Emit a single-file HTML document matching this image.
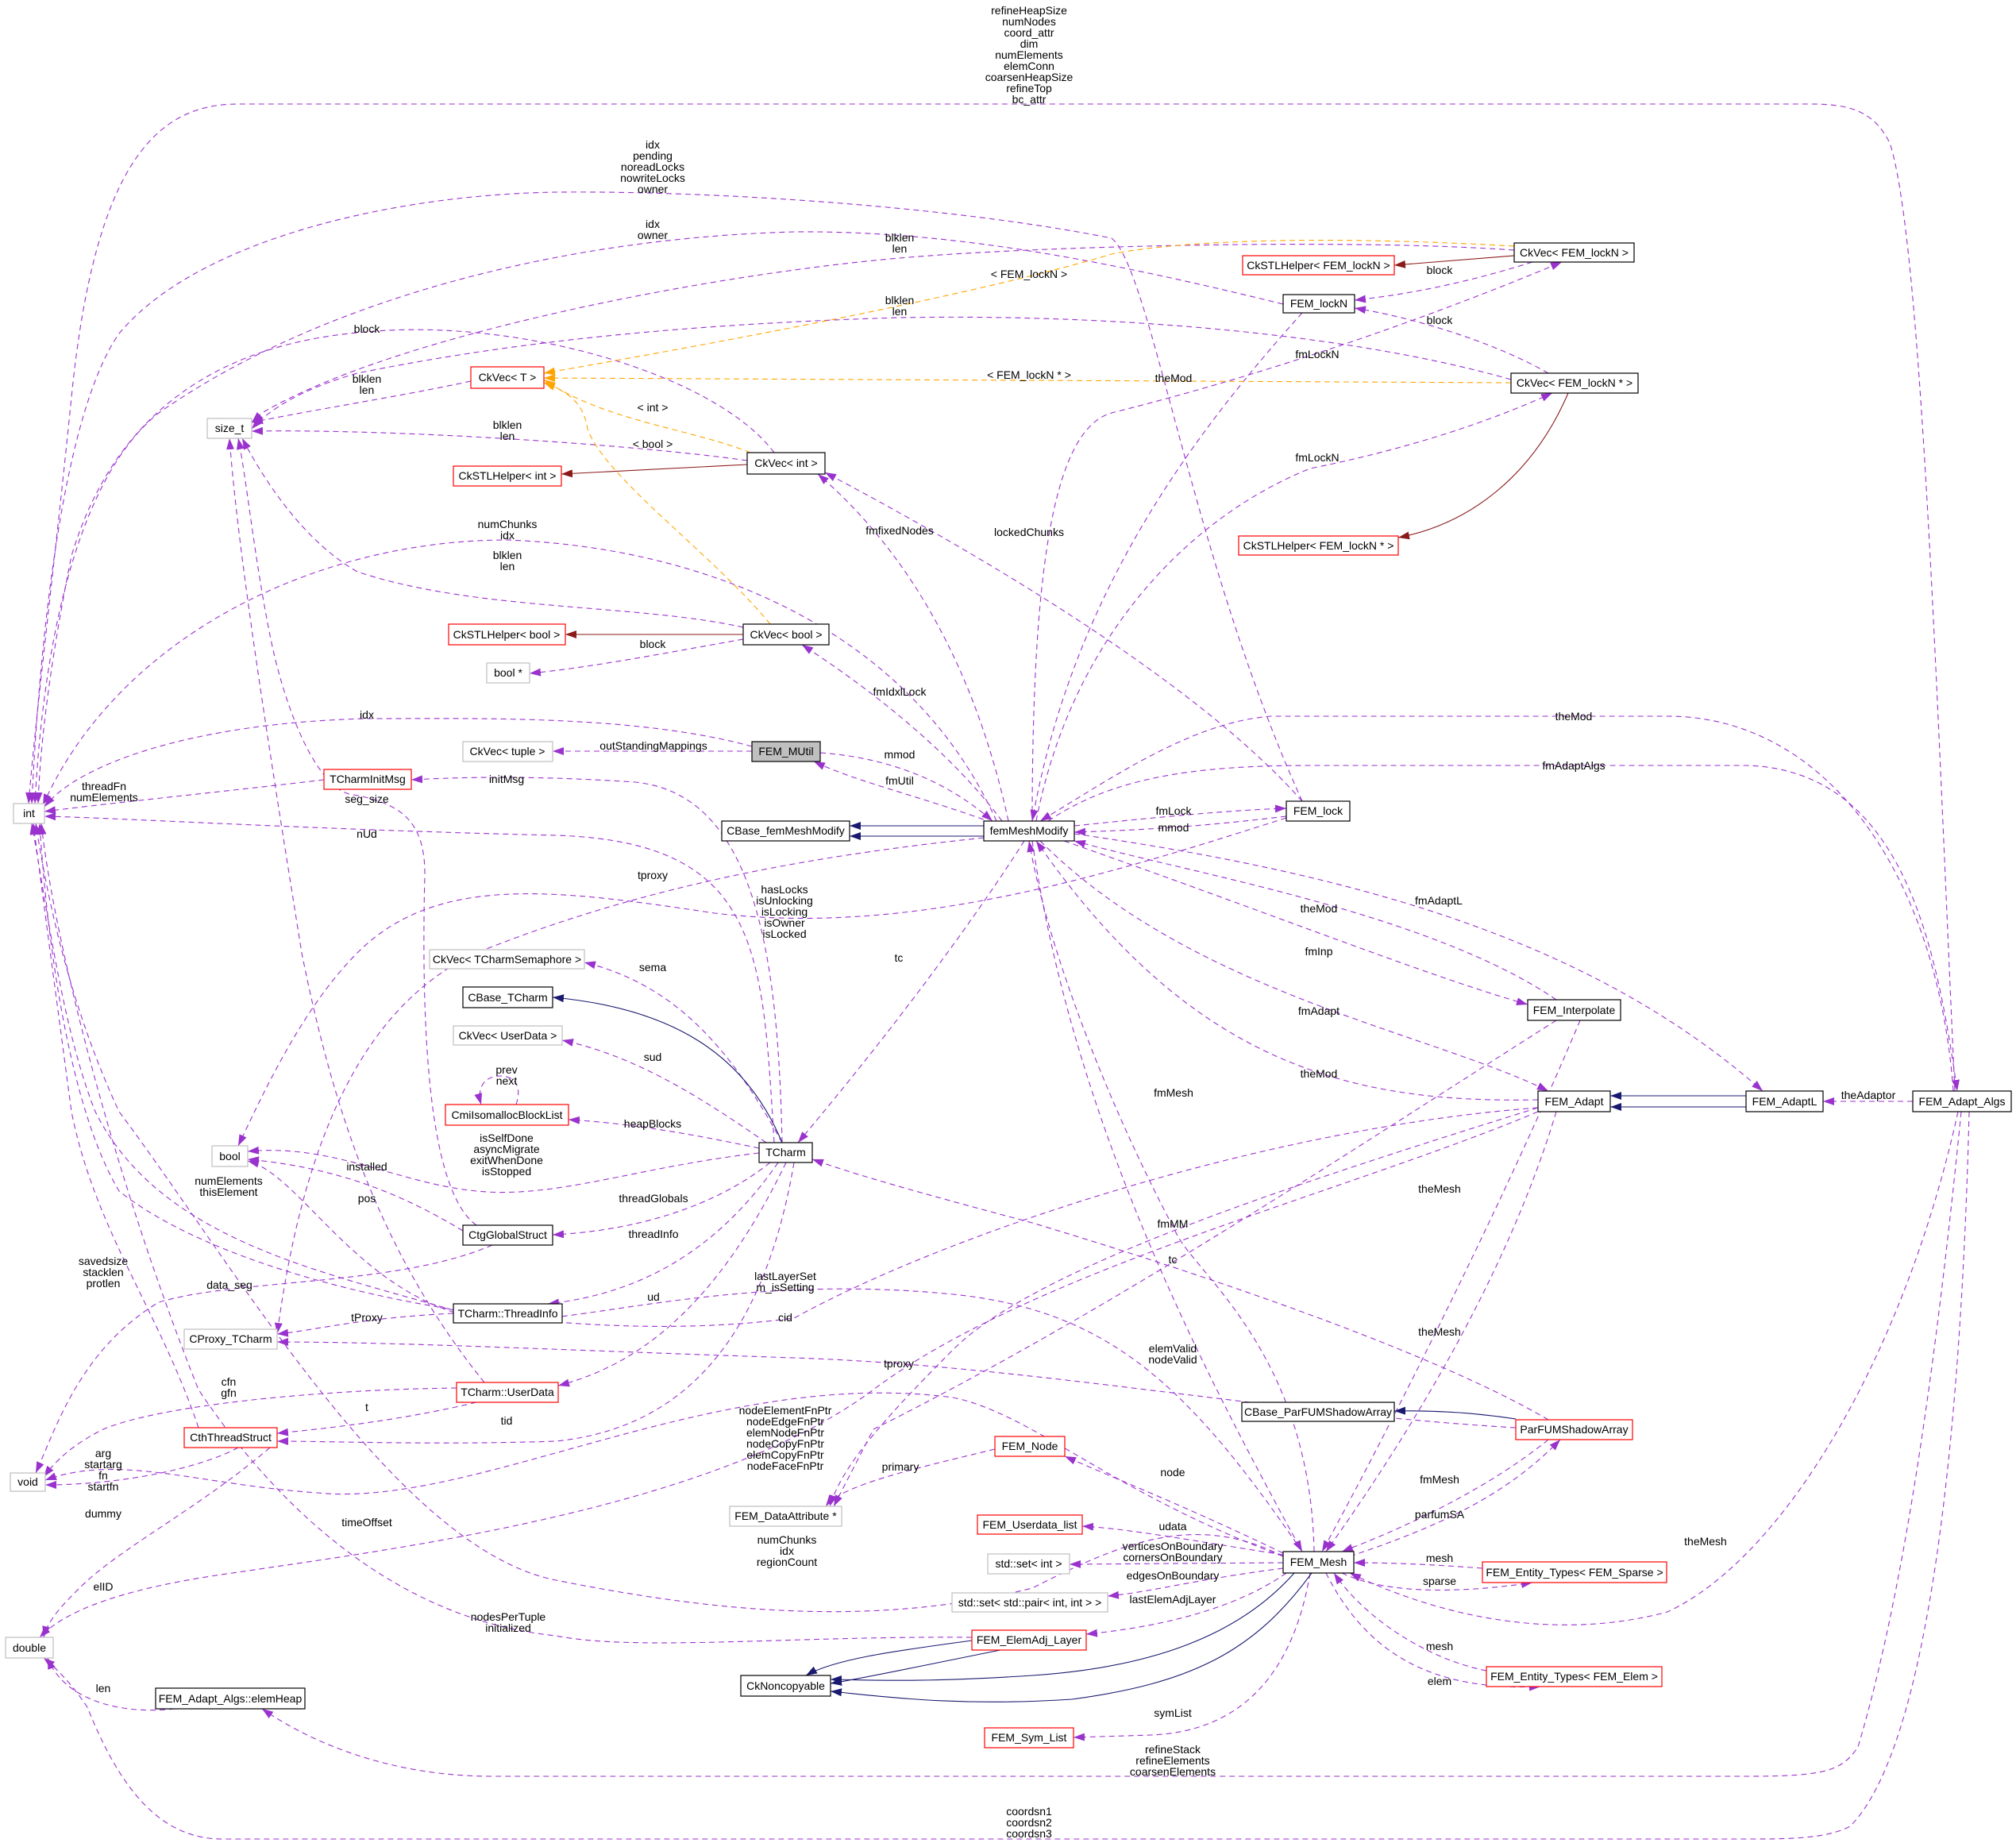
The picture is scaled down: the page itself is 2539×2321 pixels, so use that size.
<!DOCTYPE html>
<html><head><meta charset="utf-8"><style>
html,body{margin:0;padding:0;background:#fff;}
svg{display:block;font-family:"Liberation Sans",sans-serif;font-size:14px;}
.p{fill:none;stroke:#9a32cd;stroke-width:1.1;stroke-dasharray:7,5;}
.o{fill:none;stroke:#ffa500;stroke-width:1.1;stroke-dasharray:7,5;}
.n{fill:none;stroke:#191970;stroke-width:1.1;}
.r{fill:none;stroke:#8b1a1a;stroke-width:1.1;}
.bk{fill:#fff;stroke:#000;stroke-width:1.2;}
.bg{fill:#fff;stroke:#bfbfbf;stroke-width:1.2;}
.br{fill:#fff;stroke:#ff0000;stroke-width:1.2;}
text{fill:#000;}
.c{text-anchor:middle;}
</style></head><body>
<svg width="2539" height="2321" viewBox="0 0 2539 2321" xmlns="http://www.w3.org/2000/svg">
<defs>
<marker id="ap" markerUnits="userSpaceOnUse" markerWidth="15" markerHeight="11" refX="14" refY="5" orient="auto"><path d="M0,0L14,5L0,10z" fill="#9a32cd"/></marker>
<marker id="ao" markerUnits="userSpaceOnUse" markerWidth="15" markerHeight="11" refX="14" refY="5" orient="auto"><path d="M0,0L14,5L0,10z" fill="#ffa500"/></marker>
<marker id="an" markerUnits="userSpaceOnUse" markerWidth="15" markerHeight="11" refX="14" refY="5" orient="auto"><path d="M0,0L14,5L0,10z" fill="#191970"/></marker>
<marker id="ar" markerUnits="userSpaceOnUse" markerWidth="15" markerHeight="11" refX="14" refY="5" orient="auto"><path d="M0,0L14,5L0,10z" fill="#8b1a1a"/></marker>
</defs>

<g class="p" marker-end="url(#ap)">
<path d="M2462,1374 C2440,900 2420,300 2380,180 C2360,140 2330,131 2280,131 L300,131 C200,131 120,200 90,500 C70,700 45,900 36,1012"/>
<path d="M1640,1009 C1500,700 1450,340 1400,300 C1200,260 900,240 700,242 C500,245 250,300 150,420 C80,520 50,800 40,1012"/>
<path d="M1616,383 C1400,330 1200,290 1000,292 C700,300 400,380 200,520 C100,600 55,800 44,1012"/>
<path d="M1907,315 C1700,300 1300,310 1133,325 C900,345 500,420 330,520 L317,532"/>
<path d="M1903,478 C1700,420 1400,395 1133,400 C800,410 600,440 450,470 C380,490 340,515 317,540"/>
<path d="M975,570 C900,470 650,400 462,418 C300,430 150,500 90,700 C60,850 50,950 48,1012"/>
<path d="M593,480 C500,500 400,515 317,532"/>
<path d="M941,580 C800,560 500,540 317,543"/>
<path d="M1255,1034 C1150,800 900,690 639,680 C400,680 150,800 54,1014"/>
<path d="M936,790 C800,760 600,770 450,720 C380,680 330,600 305,552"/>
<path d="M947,940 C800,900 600,905 462,905 C250,910 100,960 56,1016"/>
<path d="M947,946 L696,946"/>
<path d="M1033,948 C1130,955 1200,990 1250,1034"/>
<path d="M1250,1036 C1150,1000 1080,985 1025,959"/>
<path d="M936,805 C850,820 750,840 667,848"/>
<path d="M1930,330 C1850,355 1780,370 1706,378"/>
<path d="M1950,470 C1880,430 1780,400 1706,388"/>
<path d="M1300,1034 C1300,700 1330,540 1400,520 C1600,470 1800,400 1967,330"/>
<path d="M1305,1034 C1350,800 1500,650 1650,590 C1800,560 1900,520 1955,495"/>
<path d="M1640,394 C1500,550 1350,750 1300,1034"/>
<path d="M1270,1034 C1230,850 1150,700 1030,597"/>
<path d="M1640,1009 C1500,850 1200,680 1039,595"/>
<path d="M1262,1034 C1200,950 1100,870 1010,812"/>
<path d="M985,1439 C980,1200 950,1000 800,985 C650,975 560,980 518,982"/>
<path d="M975,1439 C960,1200 960,1060 700,1052 C400,1045 150,1030 56,1028"/>
<path d="M408,982 C300,995 150,1010 56,1022"/>
<path d="M600,1543 C540,1500 530,1300 535,1100 C535,1030 500,1010 440,1000 C400,990 360,900 340,800 C320,700 310,600 300,552"/>
<path d="M1239,1055 C1000,1080 800,1120 600,1200 C450,1270 380,1450 349,1680"/>
<path d="M1620,1030 C1400,1100 1150,1180 900,1150 C700,1120 550,1100 450,1200 C380,1270 330,1380 300,1443"/>
<path d="M1290,1059 C1200,1200 1080,1350 1005,1439"/>
<path d="M985,1439 C920,1320 850,1240 736,1212"/>
<path d="M965,1439 C880,1380 800,1330 708,1310"/>
<path d="M650,1391 C660,1360 640,1355 630,1355 C610,1355 600,1370 606,1391"/>
<path d="M956,1446 C880,1430 800,1415 716,1410"/>
<path d="M956,1452 C800,1470 700,1510 600,1500 C500,1490 420,1440 312,1450"/>
<path d="M583,1550 C500,1500 420,1470 312,1460"/>
<path d="M571,1650 C400,1600 200,1560 120,1400 C80,1300 60,1150 40,1037"/>
<path d="M610,1741 C480,1580 420,1400 380,1200 C340,950 300,700 289,552"/>
<path d="M970,1464 C900,1520 800,1550 696,1555"/>
<path d="M980,1464 C900,1580 800,1630 690,1642"/>
<path d="M250,1798 C200,1650 120,1550 90,1400 C70,1250 50,1100 42,1037"/>
<path d="M620,1568 C500,1620 300,1610 200,1640 C100,1700 70,1800 45,1855"/>
<path d="M1640,1954 C1500,1750 1400,1650 1200,1630 C900,1600 700,1680 600,1660 C450,1630 380,1480 312,1462"/>
<path d="M990,1464 C900,1650 800,1720 703,1745"/>
<path d="M1937,1395 C1600,1420 1200,1550 1000,1660 C700,1700 300,1620 150,1500 C90,1400 60,1200 50,1037"/>
<path d="M571,1654 C450,1660 400,1675 349,1680"/>
<path d="M1909,1798 C1600,1780 1300,1720 1000,1710 C700,1700 500,1690 349,1690"/>
<path d="M575,1748 C400,1750 200,1770 130,1800 C90,1820 70,1840 55,1860"/>
<path d="M1616,1960 C1400,1880 1300,1780 1200,1760 C900,1720 600,1900 400,1880 C250,1870 150,1830 57,1864"/>
<path d="M600,1766 C500,1790 400,1800 349,1805"/>
<path d="M1000,1464 C960,1700 850,1800 700,1815 C550,1820 420,1815 349,1815"/>
<path d="M300,1823 C250,1850 150,1870 57,1870"/>
<path d="M1253,1825 C1150,1850 1060,1870 1040,1897"/>
<path d="M1937,1400 C1700,1500 1300,1600 1100,1750 C900,1900 500,1950 300,1980 C150,2000 80,2030 50,2062"/>
<path d="M340,1823 C250,1900 150,1950 100,2000 C80,2020 60,2040 55,2062"/>
<path d="M1616,1960 C1500,1900 1400,1950 1300,2000 C1100,2050 900,2030 700,1990 C500,1950 300,1600 150,1400 C80,1250 55,1100 45,1037"/>
<path d="M1224,2062 C1000,2060 800,2080 700,2060 C500,2040 350,1900 250,1750 C150,1500 70,1200 52,1037"/>
<path d="M220,2152 C150,2160 80,2140 60,2088"/>
<path d="M2470,1400 C2440,1700 2400,2000 2340,2200 C2320,2230 2300,2237 2200,2237 L620,2237 C500,2237 400,2200 330,2152"/>
<path d="M2480,1400 C2470,1800 2430,2200 2330,2300 C2300,2316 2250,2316 2200,2316 L280,2316 C200,2316 150,2250 110,2150 C90,2120 70,2100 55,2088"/>
<path d="M1616,1958 C1500,1940 1420,1925 1363,1922"/>
<path d="M1616,1968 L1347,1970"/>
<path d="M1616,1975 C1500,1990 1450,2005 1395,2010"/>
<path d="M1620,1981 C1550,2030 1450,2050 1368,2058"/>
<path d="M1650,1981 C1630,2100 1570,2180 1450,2185 L1352,2188"/>
<path d="M1616,1956 C1500,1900 1400,1860 1341,1834"/>
<path d="M1867,1975 C1800,1970 1750,1968 1705,1968"/>
<path d="M1690,1981 C1750,2010 1850,2005 1930,1993"/>
<path d="M1872,2104 C1800,2090 1720,2040 1680,1981"/>
<path d="M1670,1981 C1720,2080 1800,2130 1940,2124"/>
<path d="M2466,1400 C2400,1700 2250,1960 2100,2030 C1950,2070 1800,2030 1700,1981"/>
<path d="M1950,1813 C1880,1870 1780,1920 1690,1954"/>
<path d="M1700,1960 C1820,1920 1900,1880 1965,1813"/>
<path d="M1950,1788 C1800,1700 1500,1600 1300,1540 C1150,1500 1080,1480 1023,1460"/>
<path d="M1300,1059 C1350,1400 1500,1700 1640,1954"/>
<path d="M1655,1954 C1650,1700 1500,1600 1480,1550 C1400,1400 1320,1200 1296,1059"/>
<path d="M1960,1400 C1900,1600 1780,1800 1670,1954"/>
<path d="M1990,1285 C1900,1500 1750,1800 1665,1954"/>
<path d="M1340,1059 C1600,1150 1800,1230 1924,1265"/>
<path d="M1960,1259 C1800,1150 1500,1100 1353,1059"/>
<path d="M1310,1059 C1500,1250 1800,1300 1950,1374"/>
<path d="M1937,1385 C1700,1390 1500,1340 1305,1059"/>
<path d="M1353,1050 C1700,1100 2000,1180 2220,1374"/>
<path d="M2409,1387 L2296,1387"/>
<path d="M2460,1374 C2440,1100 2300,902 2100,902 L1600,902 C1500,910 1400,980 1310,1034"/>
<path d="M1320,1034 C1400,980 1500,964 1650,964 L2200,964 C2400,970 2440,1200 2465,1374"/>
<path d="M1353,1040 C1450,1030 1550,1020 1620,1018"/>
<path d="M1620,1028 C1520,1040 1450,1045 1353,1048"/>
<path d="M1937,1395 C1600,1500 1300,1600 1200,1700 C1100,1800 1060,1850 1045,1897"/>
<path d="M1960,1285 C1700,1450 1400,1650 1100,1800 L1050,1897"/>
</g>
<g class="o" marker-end="url(#ao)">
<path d="M945,570 C870,540 760,530 685,478"/>
<path d="M970,786 C900,700 760,600 740,540 C735,510 720,495 685,482"/>
<path d="M1907,310 C1700,298 1500,300 1400,320 C1200,380 800,450 685,470"/>
<path d="M1903,482 L685,476"/>
</g>
<g class="r" marker-end="url(#ar)">
<path d="M936,799 L712,799"/>
<path d="M941,585 L707,597"/>
<path d="M1907,322 L1756,334"/>
<path d="M1975,495 C1930,600 1850,660 1761,677"/>
</g>
<g class="n" marker-end="url(#an)">
<path d="M985,1439 C940,1330 850,1270 696,1256"/>
<path d="M1630,1981 C1560,2060 1450,2100 1300,2110 C1150,2120 1080,2115 1046,2115"/>
<path d="M1652,1981 C1580,2080 1500,2120 1350,2140 C1200,2150 1100,2135 1046,2130"/>
<path d="M1224,2066 C1120,2080 1050,2090 1015,2110"/>
<path d="M1260,2078 C1150,2100 1080,2115 1046,2120"/>
<path d="M1909,1787 C1850,1778 1800,1776 1756,1777"/>
<path d="M2199,1380 L2028,1380"/>
<path d="M2199,1394 L2028,1394"/>
<path d="M1239,1040 L1070,1040"/>
<path d="M1239,1053 L1070,1053"/>
</g>

<g>
<rect class="bg" x="17" y="1012" width="39" height="25"/><text class="c" x="36.5" y="1029">int</text>
<rect class="bg" x="261" y="527" width="56" height="25"/><text class="c" x="289" y="544">size_t</text>
<rect class="br" x="593" y="462" width="92" height="27"/><text class="c" x="639" y="480">CkVec&lt; T &gt;</text>
<rect class="br" x="571" y="587" width="136" height="25"/><text class="c" x="639" y="604">CkSTLHelper&lt; int &gt;</text>
<rect class="bk" x="941" y="570" width="98" height="27"/><text class="c" x="990" y="588">CkVec&lt; int &gt;</text>
<rect class="br" x="565" y="786" width="147" height="26"/><text class="c" x="638" y="804">CkSTLHelper&lt; bool &gt;</text>
<rect class="bk" x="936" y="786" width="108" height="26"/><text class="c" x="990" y="804">CkVec&lt; bool &gt;</text>
<rect class="bg" x="613" y="835" width="54" height="25"/><text class="c" x="640" y="852">bool *</text>
<rect class="bg" x="583" y="934" width="113" height="25"/><text class="c" x="639" y="951">CkVec&lt; tuple &gt;</text>
<rect x="947" y="934" width="86" height="25" fill="#bfbfbf" stroke="#000" stroke-width="1.2"/><text class="c" x="990" y="951">FEM_MUtil</text>
<rect class="br" x="408" y="969" width="110" height="25"/><text class="c" x="463" y="986">TCharmInitMsg</text>
<rect class="bk" x="909" y="1034" width="161" height="25"/><text class="c" x="989.5" y="1051">CBase_femMeshModify</text>
<rect class="bk" x="1239" y="1034" width="114" height="25"/><text class="c" x="1296" y="1051">femMeshModify</text>
<rect class="bg" x="541" y="1196" width="195" height="24"/><text class="c" x="638.5" y="1213">CkVec&lt; TCharmSemaphore &gt;</text>
<rect class="bk" x="583" y="1243" width="113" height="26"/><text class="c" x="639.5" y="1261">CBase_TCharm</text>
<rect class="bg" x="571" y="1292" width="137" height="24"/><text class="c" x="639.5" y="1309">CkVec&lt; UserData &gt;</text>
<rect class="br" x="561" y="1391" width="155" height="26"/><text class="c" x="638.5" y="1409">CmiIsomallocBlockList</text>
<rect class="bk" x="956" y="1439" width="67" height="25"/><text class="c" x="989.5" y="1456">TCharm</text>
<rect class="bg" x="267" y="1443" width="45" height="26"/><text class="c" x="289.5" y="1461">bool</text>
<rect class="bk" x="583" y="1543" width="113" height="25"/><text class="c" x="639.5" y="1560">CtgGlobalStruct</text>
<rect class="bk" x="571" y="1642" width="137" height="24"/><text class="c" x="639.5" y="1659">TCharm::ThreadInfo</text>
<rect class="bg" x="232" y="1674" width="117" height="25"/><text class="c" x="290.5" y="1691">CProxy_TCharm</text>
<rect class="br" x="575" y="1741" width="128" height="25"/><text class="c" x="639" y="1758">TCharm::UserData</text>
<rect class="br" x="232" y="1798" width="117" height="25"/><text class="c" x="290.5" y="1815">CthThreadStruct</text>
<rect class="br" x="1253" y="1809" width="88" height="25"/><text class="c" x="1297" y="1826">FEM_Node</text>
<rect class="bg" x="13" y="1855" width="44" height="23"/><text class="c" x="35" y="1871">void</text>
<rect class="bg" x="919" y="1897" width="141" height="25"/><text class="c" x="989.5" y="1914">FEM_DataAttribute *</text>
<rect class="br" x="1231" y="1908" width="132" height="24"/><text class="c" x="1297" y="1925">FEM_Userdata_list</text>
<rect class="bg" x="1244" y="1957" width="103" height="25"/><text class="c" x="1295.5" y="1974">std::set&lt; int &gt;</text>
<rect class="bg" x="1199" y="2006" width="196" height="24"/><text class="c" x="1297" y="2023">std::set&lt; std::pair&lt; int, int &gt; &gt;</text>
<rect class="br" x="1224" y="2053" width="144" height="25"/><text class="c" x="1296" y="2070">FEM_ElemAdj_Layer</text>
<rect class="bg" x="7" y="2062" width="60" height="26"/><text class="c" x="37" y="2080">double</text>
<rect class="bk" x="933" y="2110" width="113" height="26"/><text class="c" x="989.5" y="2128">CkNoncopyable</text>
<rect class="bk" x="196" y="2126" width="188" height="26"/><text class="c" x="290" y="2144">FEM_Adapt_Algs::elemHeap</text>
<rect class="br" x="1240" y="2176" width="112" height="25"/><text class="c" x="1296" y="2193">FEM_Sym_List</text>
<rect class="bk" x="1907" y="306" width="151" height="24"/><text class="c" x="1982.5" y="323">CkVec&lt; FEM_lockN &gt;</text>
<rect class="br" x="1565" y="322" width="191" height="24"/><text class="c" x="1660.5" y="339">CkSTLHelper&lt; FEM_lockN &gt;</text>
<rect class="bk" x="1616" y="371" width="90" height="23"/><text class="c" x="1661" y="387">FEM_lockN</text>
<rect class="bk" x="1903" y="470" width="160" height="25"/><text class="c" x="1983" y="487">CkVec&lt; FEM_lockN * &gt;</text>
<rect class="br" x="1560" y="675" width="201" height="24"/><text class="c" x="1660.5" y="692">CkSTLHelper&lt; FEM_lockN * &gt;</text>
<rect class="bk" x="1620" y="1009" width="80" height="25"/><text class="c" x="1660" y="1026">FEM_lock</text>
<rect class="bk" x="1924" y="1259" width="117" height="26"/><text class="c" x="1982.5" y="1277">FEM_Interpolate</text>
<rect class="bk" x="1937" y="1374" width="91" height="26"/><text class="c" x="1982.5" y="1392">FEM_Adapt</text>
<rect class="bk" x="2199" y="1374" width="97" height="26"/><text class="c" x="2247.5" y="1392">FEM_AdaptL</text>
<rect class="bk" x="2409" y="1374" width="124" height="26"/><text class="c" x="2471" y="1392">FEM_Adapt_Algs</text>
<rect class="bk" x="1564" y="1766" width="192" height="24"/><text class="c" x="1660" y="1783">CBase_ParFUMShadowArray</text>
<rect class="br" x="1909" y="1788" width="147" height="25"/><text class="c" x="1982.5" y="1805">ParFUMShadowArray</text>
<rect class="bk" x="1616" y="1954" width="89" height="27"/><text class="c" x="1660.5" y="1972">FEM_Mesh</text>
<rect class="br" x="1867" y="1967" width="232" height="26"/><text class="c" x="1983" y="1985">FEM_Entity_Types&lt; FEM_Sparse &gt;</text>
<rect class="br" x="1872" y="2099" width="221" height="25"/><text class="c" x="1982.5" y="2116">FEM_Entity_Types&lt; FEM_Elem &gt;</text>
</g>

<g class="c">
<text x="1296" y="18"><tspan x="1296">refineHeapSize</tspan><tspan x="1296" dy="14">numNodes</tspan><tspan x="1296" dy="14">coord_attr</tspan><tspan x="1296" dy="14">dim</tspan><tspan x="1296" dy="14">numElements</tspan><tspan x="1296" dy="14">elemConn</tspan><tspan x="1296" dy="14">coarsenHeapSize</tspan><tspan x="1296" dy="14">refineTop</tspan><tspan x="1296" dy="14">bc_attr</tspan></text>
<text x="822" y="187"><tspan x="822">idx</tspan><tspan x="822" dy="14">pending</tspan><tspan x="822" dy="14">noreadLocks</tspan><tspan x="822" dy="14">nowriteLocks</tspan><tspan x="822" dy="14">owner</tspan></text>
<text x="822" y="287"><tspan x="822">idx</tspan><tspan x="822" dy="14">owner</tspan></text>
<text x="1133" y="304"><tspan x="1133">blklen</tspan><tspan x="1133" dy="14">len</tspan></text>
<text x="1296" y="350">&lt; FEM_lockN &gt;</text>
<text x="1813" y="345">block</text>
<text x="1133" y="383"><tspan x="1133">blklen</tspan><tspan x="1133" dy="14">len</tspan></text>
<text x="1813" y="408">block</text>
<text x="462" y="419">block</text>
<text x="1659" y="451">fmLockN</text>
<text x="1296" y="477">&lt; FEM_lockN * &gt;</text>
<text x="1478" y="481">theMod</text>
<text x="462" y="482"><tspan x="462">blklen</tspan><tspan x="462" dy="14">len</tspan></text>
<text x="822" y="518">&lt; int &gt;</text>
<text x="639" y="540"><tspan x="639">blklen</tspan><tspan x="639" dy="14">len</tspan></text>
<text x="822" y="564">&lt; bool &gt;</text>
<text x="1659" y="581">fmLockN</text>
<text x="639" y="665"><tspan x="639">numChunks</tspan><tspan x="639" dy="14">idx</tspan></text>
<text x="1133" y="673">fmfixedNodes</text>
<text x="1296" y="675">lockedChunks</text>
<text x="639" y="704"><tspan x="639">blklen</tspan><tspan x="639" dy="14">len</tspan></text>
<text x="822" y="816">block</text>
<text x="1133" y="876">fmIdxlLock</text>
<text x="462" y="905">idx</text>
<text x="1982" y="907">theMod</text>
<text x="823" y="944">outStandingMappings</text>
<text x="1133" y="955">mmod</text>
<text x="1982" y="969">fmAdaptAlgs</text>
<text x="1133" y="988">fmUtil</text>
<text x="638" y="986">initMsg</text>
<text x="131" y="995"><tspan x="131">threadFn</tspan><tspan x="131" dy="14">numElements</tspan></text>
<text x="462" y="1011">seg_size</text>
<text x="1478" y="1026">fmLock</text>
<text x="1478" y="1047">mmod</text>
<text x="462" y="1055">nUd</text>
<text x="822" y="1107">tproxy</text>
<text x="988" y="1125"><tspan x="988">hasLocks</tspan><tspan x="988" dy="14">isUnlocking</tspan><tspan x="988" dy="14">isLocking</tspan><tspan x="988" dy="14">isOwner</tspan><tspan x="988" dy="14">isLocked</tspan></text>
<text x="1812" y="1139">fmAdaptL</text>
<text x="1661" y="1149">theMod</text>
<text x="1661" y="1203">fmInp</text>
<text x="1132" y="1211">tc</text>
<text x="822" y="1223">sema</text>
<text x="1661" y="1278">fmAdapt</text>
<text x="822" y="1336">sud</text>
<text x="638" y="1352"><tspan x="638">prev</tspan><tspan x="638" dy="14">next</tspan></text>
<text x="1661" y="1357">theMod</text>
<text x="1478" y="1381">fmMesh</text>
<text x="2353" y="1384">theAdaptor</text>
<text x="822" y="1420">heapBlocks</text>
<text x="638" y="1438"><tspan x="638">isSelfDone</tspan><tspan x="638" dy="14">asyncMigrate</tspan><tspan x="638" dy="14">exitWhenDone</tspan><tspan x="638" dy="14">isStopped</tspan></text>
<text x="462" y="1474">installed</text>
<text x="288" y="1492"><tspan x="288">numElements</tspan><tspan x="288" dy="14">thisElement</tspan></text>
<text x="1813" y="1502">theMesh</text>
<text x="462" y="1514">pos</text>
<text x="823" y="1514">threadGlobals</text>
<text x="1477" y="1546">fmMM</text>
<text x="823" y="1559">threadInfo</text>
<text x="1477" y="1591">tc</text>
<text x="130" y="1593"><tspan x="130">savedsize</tspan><tspan x="130" dy="14">stacklen</tspan><tspan x="130" dy="14">protlen</tspan></text>
<text x="989" y="1612"><tspan x="989">lastLayerSet</tspan><tspan x="989" dy="14">m_isSetting</tspan></text>
<text x="289" y="1623">data_seg</text>
<text x="823" y="1638">ud</text>
<text x="989" y="1664">cid</text>
<text x="462" y="1664">tProxy</text>
<text x="1813" y="1682">theMesh</text>
<text x="1477" y="1703"><tspan x="1477">elemValid</tspan><tspan x="1477" dy="14">nodeValid</tspan></text>
<text x="1132" y="1722">tproxy</text>
<text x="288" y="1745"><tspan x="288">cfn</tspan><tspan x="288" dy="14">gfn</tspan></text>
<text x="462" y="1777">t</text>
<text x="989" y="1781"><tspan x="989">nodeElementFnPtr</tspan><tspan x="989" dy="14">nodeEdgeFnPtr</tspan><tspan x="989" dy="14">elemNodeFnPtr</tspan><tspan x="989" dy="14">nodeCopyFnPtr</tspan><tspan x="989" dy="14">elemCopyFnPtr</tspan><tspan x="989" dy="14">nodeFaceFnPtr</tspan></text>
<text x="638" y="1794">tid</text>
<text x="130" y="1835"><tspan x="130">arg</tspan><tspan x="130" dy="14">startarg</tspan><tspan x="130" dy="14">fn</tspan><tspan x="130" dy="14">startfn</tspan></text>
<text x="1134" y="1852">primary</text>
<text x="1477" y="1859">node</text>
<text x="1813" y="1868">fmMesh</text>
<text x="130" y="1911">dummy</text>
<text x="1813" y="1912">parfumSA</text>
<text x="462" y="1922">timeOffset</text>
<text x="1477" y="1927">udata</text>
<text x="991" y="1944"><tspan x="991">numChunks</tspan><tspan x="991" dy="14">idx</tspan><tspan x="991" dy="14">regionCount</tspan></text>
<text x="2148" y="1946">theMesh</text>
<text x="1477" y="1952"><tspan x="1477">verticesOnBoundary</tspan><tspan x="1477" dy="14">cornersOnBoundary</tspan></text>
<text x="1813" y="1967">mesh</text>
<text x="1477" y="1989">edgesOnBoundary</text>
<text x="1813" y="1996">sparse</text>
<text x="130" y="2003">elID</text>
<text x="1477" y="2019">lastElemAdjLayer</text>
<text x="640" y="2041"><tspan x="640">nodesPerTuple</tspan><tspan x="640" dy="14">initialized</tspan></text>
<text x="1813" y="2078">mesh</text>
<text x="1813" y="2122">elem</text>
<text x="130" y="2131">len</text>
<text x="1477" y="2162">symList</text>
<text x="1477" y="2208"><tspan x="1477">refineStack</tspan><tspan x="1477" dy="14">refineElements</tspan><tspan x="1477" dy="14">coarsenElements</tspan></text>
<text x="1296" y="2286"><tspan x="1296">coordsn1</tspan><tspan x="1296" dy="14">coordsn2</tspan><tspan x="1296" dy="14">coordsn3</tspan></text>
</g>
</svg>
</body></html>
